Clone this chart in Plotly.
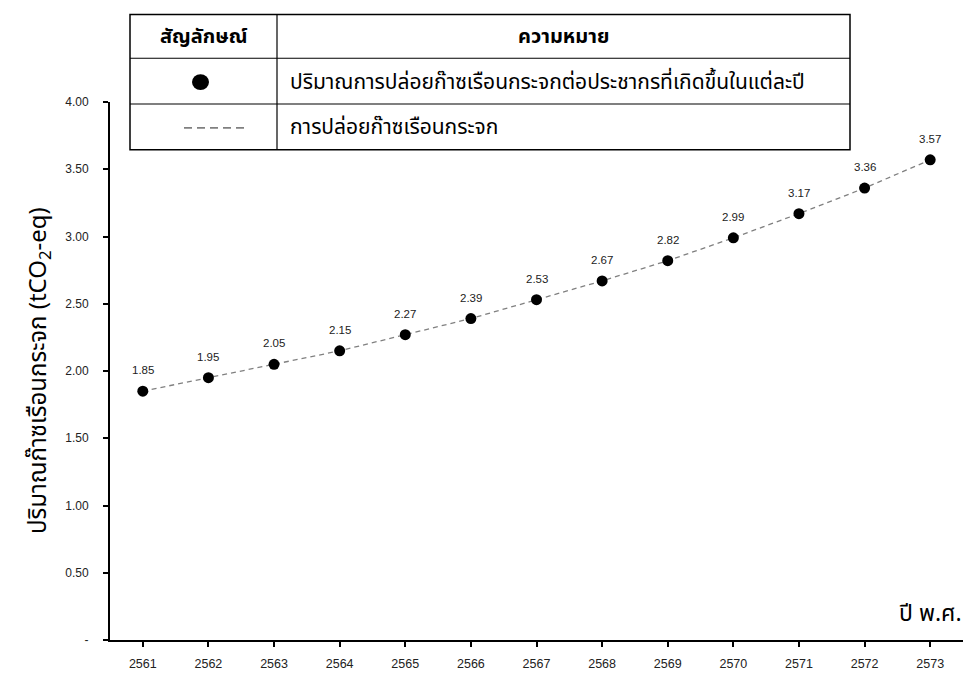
import plotly.graph_objects as go

years = [2561, 2562, 2563, 2564, 2565, 2566, 2567, 2568, 2569, 2570, 2571, 2572, 2573]
emissions = [1.85, 1.95, 2.05, 2.15, 2.27, 2.39, 2.53, 2.67, 2.82, 2.99, 3.17, 3.36, 3.57]
y_tick_vals = [0, 0.5, 1.0, 1.5, 2.0, 2.5, 3.0, 3.5, 4.0]
y_tick_text = ["-", "0.50", "1.00", "1.50", "2.00", "2.50", "3.00", "3.50", "4.00"]

y_title = "ปริมาณก๊าซเรือนกระจก (tCO<sub>2</sub>-eq)"
x_title = "ปี พ.ศ."
legend_header = ["สัญลักษณ์", "ความหมาย"]
legend_rows = ["ปริมาณการปล่อยก๊าซเรือนกระจกต่อประชากรที่เกิดขึ้นในแต่ละปี", "การปล่อยก๊าซเรือนกระจก"]

FONT = "Noto Sans Thai, Noto Sans, DejaVu Sans, sans-serif"
NUMFONT = "Liberation Sans, Arial, sans-serif"
W, H = 966, 674
L, R, T, B = 110, 3, 102, 31
PW, PH = W - L - R, H - T - B

def px(x):
    return (x - L) / PW

def py(y):
    return (H - B - y) / PH

fig = go.Figure()
fig.add_trace(go.Scatter(
    x=years, y=emissions, mode="lines+markers",
    line=dict(color="#808080", width=1.3, dash="5px,4px"),
    marker=dict(color="black", size=11),
    showlegend=False, hoverinfo="x+y",
))

shapes = []
x0, x1, x2 = px(130), px(277), px(850)
ys = [py(14), py(58), py(104), py(150)]
shapes.append(dict(type="rect", xref="paper", yref="paper", x0=x0, x1=x2, y0=ys[3], y1=ys[0],
                   line=dict(color="black", width=1.5), fillcolor="white", layer="above"))
for yy in ys[1:3]:
    shapes.append(dict(type="line", xref="paper", yref="paper", x0=x0, x1=x2, y0=yy, y1=yy,
                       line=dict(color="black", width=1.2), layer="above"))
shapes.append(dict(type="line", xref="paper", yref="paper", x0=x1, x1=x1, y0=ys[3], y1=ys[0],
                   line=dict(color="black", width=1.2), layer="above"))
shapes.append(dict(type="circle", xref="paper", yref="paper", x0=px(192), x1=px(209), y0=py(90), y1=py(74),
                   fillcolor="black", line=dict(color="black", width=0), layer="above"))
shapes.append(dict(type="line", xref="paper", yref="paper", x0=px(184), x1=px(246), y0=py(128), y1=py(128),
                   line=dict(color="#808080", width=1.6, dash="8px,5px"), layer="above"))

TS = 21
SH = -1
annotations = [
    dict(text="<b>" + legend_header[0] + "</b>", x=(x0 + x1) / 2, y=(ys[0] + ys[1]) / 2, xanchor="center",
         yanchor="middle", yshift=SH, xref="paper", yref="paper", showarrow=False,
         font=dict(size=20, color="black", family=FONT)),
    dict(text="<b>" + legend_header[1] + "</b>", x=(x1 + x2) / 2, y=(ys[0] + ys[1]) / 2, xanchor="center",
         yanchor="middle", yshift=SH, xref="paper", yref="paper", showarrow=False,
         font=dict(size=20, color="black", family=FONT)),
    dict(text=legend_rows[0], x=px(288), y=(ys[1] + ys[2]) / 2, xanchor="left", yanchor="middle", yshift=SH,
         xref="paper", yref="paper", showarrow=False, font=dict(size=TS, color="black", family=FONT)),
    dict(text=legend_rows[1], x=px(288), y=(ys[2] + ys[3]) / 2, xanchor="left", yanchor="middle", yshift=SH,
         xref="paper", yref="paper", showarrow=False, font=dict(size=TS, color="black", family=FONT)),
    dict(text=y_title, x=px(40), y=0.5, textangle=-90, xanchor="center", yanchor="middle",
         xref="paper", yref="paper", showarrow=False, font=dict(size=24, color="black", family=FONT)),
    dict(text=x_title, x=px(930), y=py(613), xanchor="center", yanchor="middle", yshift=-4,
         xref="paper", yref="paper", showarrow=False, font=dict(size=23, color="black", family=FONT)),
]
for yr, v in zip(years, emissions):
    annotations.append(dict(text=f"{v:.2f}", x=yr, y=v, xref="x", yref="y", showarrow=False,
                            yshift=21, font=dict(size=11.5, color="#222", family=NUMFONT)))

fig.update_layout(
    width=W, height=H, margin=dict(l=L, r=R, t=T, b=B),
    paper_bgcolor="white", plot_bgcolor="white",
    font=dict(family=NUMFONT, color="#222"),
    shapes=shapes, annotations=annotations,
    xaxis=dict(range=[years[0] - 0.5, years[-1] + 0.5], tickvals=years, ticktext=[str(y) for y in years],
               showgrid=False, zeroline=False, showline=True, linecolor="black", linewidth=2,
               ticks="outside", ticklen=5, tickcolor="black", tickwidth=1.5,
               tickfont=dict(size=12.5, color="#222"), ticklabelstandoff=6),
    yaxis=dict(range=[0, 4], tickvals=y_tick_vals, ticktext=y_tick_text,
               showgrid=False, zeroline=False, showline=True, linecolor="black", linewidth=2,
               ticks="outside", ticklen=5, tickcolor="black", tickwidth=1.5,
               tickfont=dict(size=12, color="#222"), ticklabelstandoff=12),
)

fig.write_html("out.html", config={"displayModeBar": False},
               post_script="document.body.style.margin='0';document.body.style.overflow='hidden';")
